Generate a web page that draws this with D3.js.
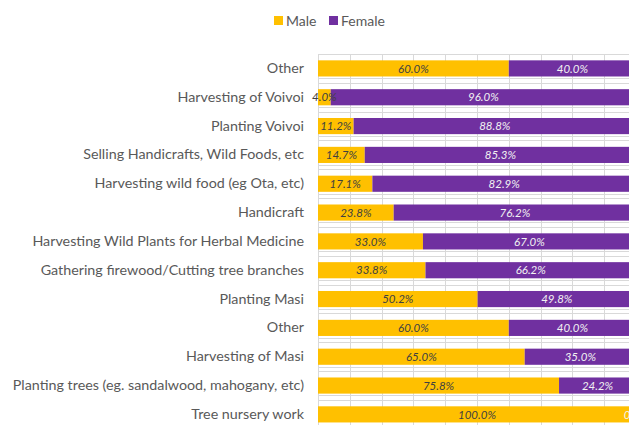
<!DOCTYPE html>
<html>
<head>
<meta charset="utf-8">
<script src="https://cdn.jsdelivr.net/npm/d3@7"></script>
<style>
  html, body { margin: 0; padding: 0; background: #fff; overflow: hidden; }
  svg { display: block; }
  text { font-family: Lato, "Open Sans", sans-serif; }
</style>
</head>
<body>
<svg id="chart" width="629" height="425"></svg>
<script>
const categories = [
  "Other",
  "Harvesting of Voivoi",
  "Planting Voivoi",
  "Selling Handicrafts, Wild Foods, etc",
  "Harvesting wild food (eg Ota, etc)",
  "Handicraft",
  "Harvesting Wild Plants for Herbal Medicine",
  "Gathering firewood/Cutting tree branches",
  "Planting Masi",
  "Other",
  "Harvesting of Masi",
  "Planting trees (eg. sandalwood, mahogany, etc)",
  "Tree nursery work"
];
const male   = [60.0, 4.0, 11.2, 14.7, 17.1, 23.8, 33.0, 33.8, 50.2, 60.0, 65.0, 75.8, 100.0];
const female = [40.0, 96.0, 88.8, 85.3, 82.9, 76.2, 67.0, 66.2, 49.8, 40.0, 35.0, 24.2, 0.0];
const seriesNames = ["Male", "Female"];
const xTicks = d3.range(0, 101, 10);

const colors = { Male: "#FFC000", Female: "#7030A0" };
const labelColors = { Male: "#404040", Female: "#F2F2F2" };

const svg = d3.select("#chart");
const plotLeft = 318, plotRight = 636, plotTop = 54, plotBottom = 428.8;

const x = d3.scaleLinear().domain([0, 100]).range([plotLeft, plotRight]);
const y = d3.scaleBand().domain(d3.range(categories.length))
  .range([plotTop, plotBottom]).paddingInner(0.44).paddingOuter(0.22);

const grid = svg.append("g").attr("stroke", "#D9D9D9").attr("stroke-width", 1);
grid.selectAll("line.v").data(xTicks).join("line")
  .attr("x1", d => Math.round(x(d)) + 0.5).attr("x2", d => Math.round(x(d)) + 0.5)
  .attr("y1", plotTop).attr("y2", plotBottom);
const step = y.step();
const hLines = [];
for (let i = 0; i <= categories.length; i++) {
  const yb = plotTop + i * step;
  hLines.push(yb);
  if (i > 0 && i < categories.length) hLines.push(yb - 4.6);
}
grid.selectAll("line.h").data(hLines).join("line")
  .attr("x1", plotLeft).attr("x2", plotRight)
  .attr("y1", d => Math.round(d) + 0.5).attr("y2", d => Math.round(d) + 0.5);

const rows = categories.map((c, i) => ({ i, Male: male[i], Female: female[i] }));
const stacked = d3.stack().keys(seriesNames)(rows);

const layers = svg.append("g").selectAll("g").data(stacked).join("g")
  .attr("fill", d => colors[d.key]);
layers.selectAll("rect").data(d => d).join("rect")
  .attr("x", d => x(d[0]))
  .attr("width", d => x(d[1]) - x(d[0]))
  .attr("y", d => y(d.data.i))
  .attr("height", y.bandwidth());

const lbl = svg.append("g").selectAll("g").data(stacked).join("g")
  .attr("fill", d => labelColors[d.key]);
lbl.selectAll("text").data(d => d).join("text")
  .attr("x", d => (x(d[0]) + x(d[1])) / 2)
  .attr("y", d => y(d.data.i) + y.bandwidth() / 2)
  .attr("dy", "0.36em")
  .attr("text-anchor", "middle")
  .attr("font-size", "11.5px")
  .attr("font-style", "italic")
  .text(d => d3.format(".1f")(d[1] - d[0]) + "%");

const yAxis = d3.axisLeft(y).tickSize(0).tickPadding(14).tickFormat(i => categories[i]);
const ag = svg.append("g").attr("transform", `translate(${plotLeft},0)`).call(yAxis);
ag.select(".domain").remove();
ag.selectAll("text").attr("fill", "#595959").attr("font-size", "14.3px")
  .style("font-family", 'Lato, "Open Sans", sans-serif');

const legend = svg.append("g");
const legendX = [274, 329];
seriesNames.forEach((s, k) => {
  legend.append("rect").attr("x", legendX[k]).attr("y", 16).attr("width", 9).attr("height", 9)
    .attr("fill", colors[s]);
  legend.append("text").attr("x", legendX[k] + 12).attr("y", 25.5)
    .attr("fill", "#595959").attr("font-size", "14px").text(s);
});
</script>
</body>
</html>
